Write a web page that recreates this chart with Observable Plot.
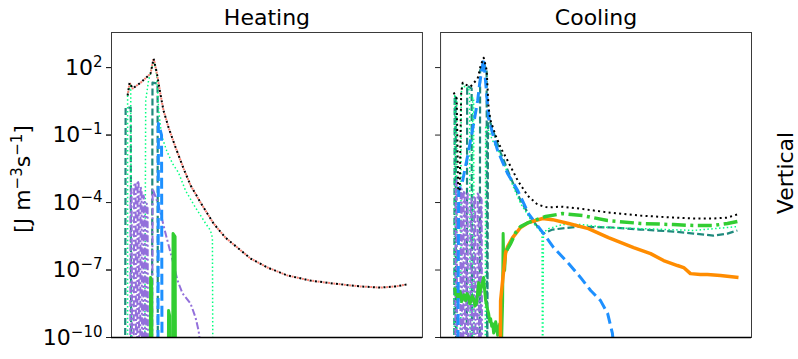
<!DOCTYPE html>
<html><head><meta charset="utf-8">
<script src="https://cdn.jsdelivr.net/npm/d3@7"></script>
<script src="https://cdn.jsdelivr.net/npm/@observablehq/plot@0.6"></script>
<style>body{margin:0;background:#fff}</style>
</head><body><div id="chart"></div>
<script>
// Panels and axis ticks
const panels = ["Heating", "Cooling"];
const yTicks = [1e2, 1e-1, 1e-4, 1e-7, 1e-10];
const yLabel = "[J m^{−3}s^{−1}]";
const rowLabel = "Vertical";

// Each series: x position along profile (0–100) and log10 of the rate; null = zero (below the axis)
// ---- Heating ----
const heatTotalX = [0.7,1.4,2.5,5.3,8.8,9.9,11.0,12.4,13.4,15.2,17.7,20.5,23.0,26.5,31.1,35.3,39.9,44.2,50.2,57.2,65.4,73.5,83.0,90.1,95.4,99.6];
const heatTotalLog = [0.76,1.33,1.07,1.33,1.73,2.40,1.78,0.76,0.09,-0.67,-1.56,-2.49,-3.24,-4.0,-4.93,-5.56,-6.04,-6.49,-6.89,-7.24,-7.47,-7.6,-7.73,-7.78,-7.73,-7.64];

const heatSpringX = [0.7,0.7,1.8,2.1,6.7,7.1,8.1,9.5,10.2,11.0,11.7,12.7,14.5,16.6,18.7,21.2,24.7,28.3,30.0,30.7,30.9];
const heatSpringLog = [null,0.76,1.29,null,null,0.53,1.42,2.09,2.22,1.64,0.09,-1.02,-1.69,-2.27,-2.67,-3.47,-4.22,-4.93,-5.24,-5.56,null];

const heatTealX = [-0.2,0,1.8,2.0,9.3,9.5,11.3,11.4];
const heatTealLog = [null,0.22,0.22,null,null,1.33,1.29,null];

const heatBlueX = [11.4,11.6,12.7,12.9];
const heatBlueLog = [null,-0.49,-1.0,null];

const heatPurpleX = [1.59,1.77,2.12,2.30,2.83,3.0,3.53,3.71,4.06,4.24,4.59,4.77,5.12,5.30,5.65,5.83,6.18,6.36,6.71,6.89,7.24,7.42,7.77,7.95,9.36,9.54,11.66,14.13,16.61,18.37,20.14,22.97,24.73,25.80,26.50];
const heatPurpleLog = [null,-3.69,-3.38,null,null,-3.24,-3.11,null,null,-3.02,-3.16,null,null,-3.29,-3.47,null,null,-3.69,-3.91,null,null,-4.04,-4.13,null,null,-3.38,-4.13,-5.38,-6.58,-7.47,-8.04,-8.49,-9.11,-9.69,-10.36];

const heatLimeX = [8.66,8.83,9.19,9.36,15.02,15.19,15.55,15.72,16.61,16.78,17.49,17.67];
const heatLimeLog = [null,-7.33,-7.47,null,null,-8.8,-9.02,null,null,-5.38,-5.51,null];

// ---- Cooling ----
const coolTotalX = [-0.35,0.71,1.24,1.77,2.30,2.83,3.89,5.65,8.13,9.19,10.25,11.3,12.0,12.7,14.5,16.25,18.7,22.3,25.8,29.3,32.9,37.5,44.5,54.1,65.7,77.4,84.5,91.5,96.5,100];
const coolTotalLog = [0.89,0.62,-3.47,-3.47,0.89,1.33,1.24,1.16,1.51,2.09,2.44,1.9,0.2,-0.36,-1.02,-1.56,-2.13,-3.02,-3.69,-4.09,-4.22,-4.18,-4.27,-4.44,-4.58,-4.67,-4.71,-4.71,-4.67,-4.53];

const coolTealX = [-0.18,0,0.35,0.53,4.24,4.42,6.0,6.18,8.83,9.0,10.25,11.3,11.5,11.8,12.7,16.25,19.8,23.3,26.9,29.3,31.4,34.6,43.8,55.8,65.7,77.4,84.5,91.5,96.5,100];
const coolTealLog = [null,0.76,0.67,null,null,1.2,1.07,null,null,1.87,2.22,1.87,null,0.09,-0.49,-1.78,-2.89,-3.91,-4.67,-5.07,-5.38,-5.2,-5.07,-5.11,-5.2,-5.29,-5.38,-5.47,-5.38,-5.24];

const coolBlueX = [1.06,1.41,2.83,4.95,6.71,8.13,8.83,10.25,12.0,13.4,15.2,18.7,22.3,26.1,31.1,35.0,40.3,44.5,48.1,51.6,54.1,55.8,56.2];
const coolBlueLog = [null,-3.47,-3.02,-1.69,-0.49,0.53,1.29,2.4,-0.22,-0.93,-1.69,-2.71,-3.47,-4.49,-5.33,-6.0,-6.71,-7.33,-7.91,-8.36,-8.93,-9.82,-10.36];

const coolSpringX = [-0.18,0,0.71,0.88,2.12,2.3,2.83,3.89,4.95,5.3,5.48,6.18,6.36,6.71,6.89,10.78,10.95,12.0,13.4,16.25,19.8,23.3,26.9,29.7,30.9,31.1,31.4,33.2,38.2,45.2,54.1,65.7,84.5,96.5,100];
const coolSpringLog = [null,0.76,0.67,null,null,0.85,1.29,1.07,1.12,0.76,null,null,0.67,0.62,null,null,-0.58,-0.8,-1.24,-1.91,-3.02,-4.04,-4.76,-5.2,-5.33,null,-5.33,-5.16,-4.98,-4.98,-5.11,-5.16,-5.24,-5.11,-5.07];

const coolPurpleX = [0.18,0.35,0.71,0.88,1.94,2.12,2.47,2.65,3.0,3.18,3.53,3.71,4.06,4.24,4.59,4.77,5.48,5.65,6.0,6.18,6.71,6.89,7.24,7.42,7.95,8.13,8.48,8.66,9.19,9.36,9.54,9.72];
const coolPurpleLog = [null,-3.16,-3.02,null,null,-3.5,-3.4,null,null,-3.56,-3.47,null,null,-3.7,-3.6,null,null,-3.91,-3.82,null,null,-3.75,-3.7,null,null,-3.6,-3.69,null,null,-3.8,-3.9,null];

const coolLimeX = [0,0.4,0.71,1.1,1.41,1.8,2.12,2.5,2.83,3.3,3.89,4.4,4.95,5.3,5.65,6.2,6.71,7.2,7.77,8.1,8.48,8.8,9.19,9.7,10.25,10.6,10.95,11.5,12.0,12.4,12.72,13.1,13.43,13.8,14.13,14.5,14.84,15.2,15.55,15.9,16.25,16.6,16.96,17.14,17.31,17.67,18.02,18.73,19.79];
const coolLimeLog = [-7.78,-8.1,-7.91,-8.3,-8.22,-7.95,-8.04,-8.4,-8.27,-8.1,-8.36,-8.05,-8.18,-8.5,-8.44,-8.15,-8.27,-8.6,-8.49,-8.0,-7.56,-8.1,-7.91,-7.6,-7.33,-7.9,-8.36,-8.7,-8.93,-9.3,-9.16,-9.5,-9.38,-9.8,-9.69,-9.3,-9.51,-9.9,-9.82,-9.4,-9.56,-10.13,-8.36,-5.38,-6.36,-7.02,-6.22,-6.04,-5.82];

const coolOrangeX = [16.08,16.25,16.96,18.02,18.73,20.5,23.3,26.1,31.1,34.6,40.3,47.3,54.4,63.3,69.3,73.9,78.8,81.0,83.4,86.9,89.4,94.0,100.4];
const coolOrangeLog = [null,-8.36,-7.47,-6.22,-5.96,-5.56,-5.11,-4.89,-4.71,-4.76,-4.93,-5.16,-5.56,-6.0,-6.27,-6.58,-6.8,-6.89,-7.16,-7.2,-7.2,-7.24,-7.33];

const coolLimeDDX = [18.4,19.8,21.6,23.3,26.1,32.2,38.2,45.2,54.1,65.7,77.4,84.5,91.5,96.5,100];
const coolLimeDDLog = [-6.13,-5.82,-5.33,-5.07,-4.89,-4.62,-4.49,-4.58,-4.8,-4.93,-4.98,-5.02,-5.02,-4.93,-4.84];

// ---- build tables ----
const FLOOR = 1e-13; // zero values fall below the log axis and are clipped
function rows(panel, xs, logs) {
  return xs.map((x, i) => ({panel, x, y: logs[i] == null ? FLOOR : Math.pow(10, logs[i])}));
}
const styles = {
  teal:   {stroke: "#1f8a7d", strokeWidth: 2.2, strokeDasharray: "7,3"},
  spring: {stroke: "#00ff7f", strokeWidth: 1.5, strokeDasharray: "1.5,2.4"},
  purple: {stroke: "#9370db", strokeWidth: 2, strokeDasharray: "7,2.5,2,2.5"},
  lime:   {stroke: "#32cd32", strokeWidth: 3},
  blue:   {stroke: "#1e90ff", strokeWidth: 3, strokeDasharray: "11,5"},
  orange: {stroke: "#ff8c00", strokeWidth: 3.5},
  limeDD: {stroke: "#32cd32", strokeWidth: 3.5, strokeDasharray: "14,4.5,3,4.5"},
  salmon: {stroke: "#fa8072", strokeWidth: 2, strokeDasharray: "2,3.3", strokeDashoffset: 2.65},
  black:  {stroke: "#000000", strokeWidth: 2, strokeDasharray: "2,3.3"}
};
const series = [
  ["teal", rows("Heating", heatTealX, heatTealLog)],
  ["teal", rows("Cooling", coolTealX, coolTealLog)],
  ["spring", rows("Heating", heatSpringX, heatSpringLog)],
  ["spring", rows("Cooling", coolSpringX, coolSpringLog)],
  ["purple", rows("Heating", heatPurpleX, heatPurpleLog)],
  ["purple", rows("Cooling", coolPurpleX, coolPurpleLog)],
  ["lime", rows("Heating", heatLimeX, heatLimeLog)],
  ["lime", rows("Cooling", coolLimeX, coolLimeLog)],
  ["blue", rows("Heating", heatBlueX, heatBlueLog)],
  ["blue", rows("Cooling", coolBlueX, coolBlueLog)],
  ["orange", rows("Cooling", coolOrangeX, coolOrangeLog)],
  ["limeDD", rows("Cooling", coolLimeDDX, coolLimeDDLog)],
  ["salmon", rows("Heating", heatTotalX, heatTotalLog)],
  ["black", rows("Heating", heatTotalX, heatTotalLog)],
  ["black", rows("Cooling", coolTotalX, coolTotalLog)]
];

const supFmt = d => "10^{" + String(Math.round(Math.log10(d))).replace("-", "−") + "}";

const chart = Plot.plot({
  width: 798, height: 359,
  marginLeft: 111, marginRight: 47, marginTop: 32, marginBottom: 22,
  style: {fontFamily: "DejaVu Sans", fontSize: "22px", background: "white", color: "black"},
  fx: {domain: panels, paddingInner: 0.055, paddingOuter: 0, round: false, axis: null},
  x: {domain: [-5, 105], axis: null},
  y: {type: "log", domain: [1e-10, Math.pow(10, 3.56)]},
  marks: [
    ...series.map(([k, data]) => Plot.line(data, {
      x: "x", y: "y", fx: "panel", ...styles[k],
      strokeLinecap: "butt", strokeLinejoin: "round", clip: true
    })),
    Plot.frame({stroke: "#3a3a3a", strokeWidth: 1}),
    Plot.ruleY([1e-10], {stroke: "black", strokeWidth: 1.6}),
    Plot.axisY(yTicks, {tickFormat: supFmt, tickSize: 5, tickPadding: 4, fontSize: 22, label: null, stroke: "#222"}),
    Plot.axisY(yTicks, {tickFormat: () => "", tickSize: 5, label: null, facetAnchor: null, stroke: "#222"}),
    Plot.text(panels, {fx: d => d, text: d => d, frameAnchor: "top", lineAnchor: "middle", dy: -15, fontSize: 22}),
    Plot.text([panels[0]], {fx: d => d, text: () => yLabel, frameAnchor: "left", textAnchor: "middle", lineAnchor: "middle", dx: -89, dy: -6, rotate: -90, fontSize: 22}),
    Plot.text([panels[1]], {fx: d => d, text: () => rowLabel, frameAnchor: "right", textAnchor: "middle", lineAnchor: "middle", dx: 34, dy: -12, rotate: -90, fontSize: 22})
  ]
});

// render "^{...}" as raised, smaller tspans (mathtext-like superscripts)
chart.querySelectorAll("text").forEach(t => {
  const s = t.textContent;
  if (!s.includes("^{")) return;
  while (t.firstChild) t.removeChild(t.firstChild);
  const parts = s.split(/\^\{([^}]*)\}/);
  let raised = false;
  parts.forEach((p, i) => {
    if (p === "") return;
    const ts = document.createElementNS("http://www.w3.org/2000/svg", "tspan");
    ts.textContent = p;
    if (i % 2 === 1) {
      ts.setAttribute("font-size", "15px");
      ts.setAttribute("dy", raised ? "0" : "-8");
      raised = true;
    } else if (raised) {
      ts.setAttribute("dy", "8");
      raised = false;
    }
    t.appendChild(ts);
  });
});

document.getElementById("chart").appendChild(chart);
</script>
</body></html>
